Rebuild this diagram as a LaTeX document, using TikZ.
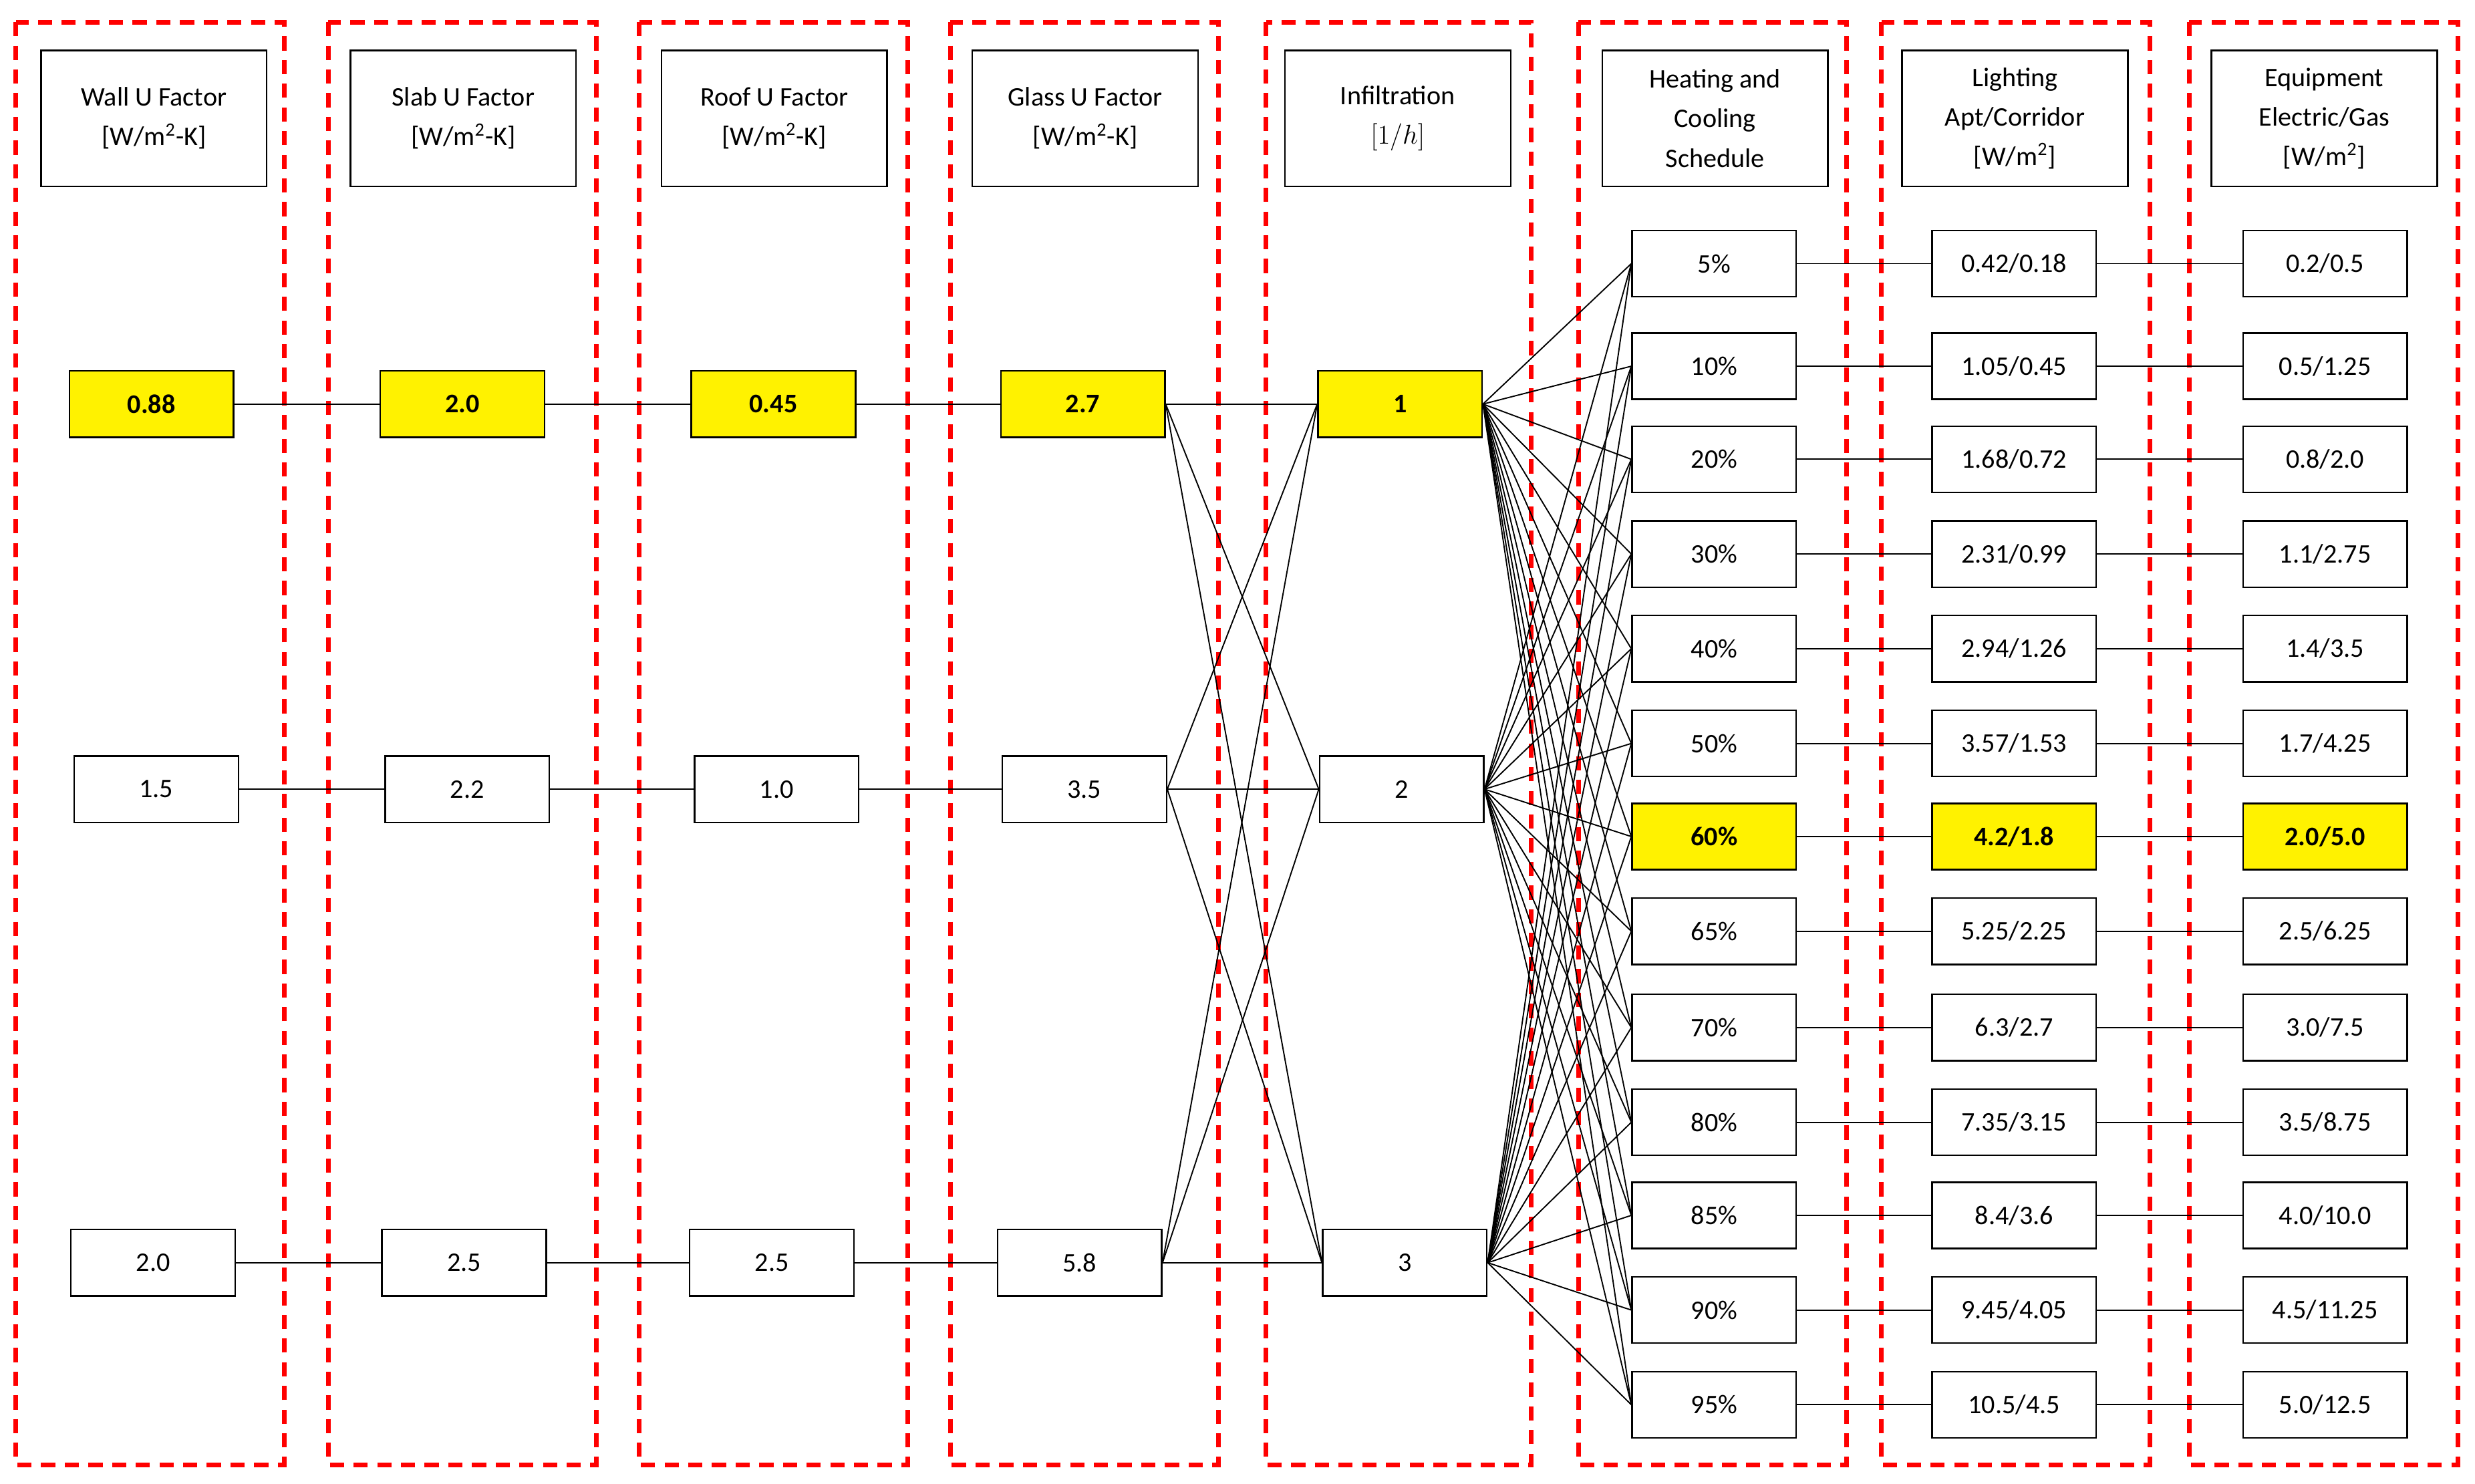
\documentclass[tikz,border=0pt]{standalone}
\usepackage{fontspec}
\setmainfont{Carlito}
\begin{document}
\begin{tikzpicture}[x=1pt,y=-1pt,
  col/.style={draw=red,line width=3pt,dash pattern=on 9pt off 6pt},
  hdr/.style={draw,line width=1pt,minimum width=143pt,minimum height=86pt,align=center,font=\fontsize{17}{25}\selectfont,inner sep=2pt},
  val/.style={draw,line width=1pt,minimum width=104pt,minimum height=42pt,font=\fontsize{17}{20}\selectfont,fill=white},
  hl/.style={val,fill=yellow,font=\fontsize{17}{20}\selectfont\bfseries},
  ln/.style={line width=0.8pt}]
\useasboundingbox (0,0) rectangle (1568,940);
% dashed columns
\foreach \a/\b in {10/180,208/378,405/575,602/772,802/970,1000/1170,1192/1362,1387/1557}
  \draw[col] (\a,14) rectangle (\b,928);
% headers
\node[hdr] (h1) at (97.5,75) {Wall U Factor\\{[W/m\textsuperscript{2}-K]}};
\node[hdr] (h2) at (293.5,75) {Slab U Factor\\{[W/m\textsuperscript{2}-K]}};
\node[hdr] (h3) at (490.5,75) {Roof U Factor\\{[W/m\textsuperscript{2}-K]}};
\node[hdr] (h4) at (687.5,75) {Glass U Factor\\{[W/m\textsuperscript{2}-K]}};
\node[hdr] (h5) at (885.5,75) {Infiltration\\$[1/h]$};
\node[hdr] (h6) at (1086.5,75) {Heating and\\Cooling\\Schedule};
\node[hdr] (h7) at (1276.5,75) {Lighting\\Apt/Corridor\\{[W/m\textsuperscript{2}]}};
\node[hdr] (h8) at (1472.5,75) {Equipment\\Electric/Gas\\{[W/m\textsuperscript{2}]}};
% left columns
\node[hl] (a1) at (96,256) {0.88};
\node[val] (a2) at (99,500) {1.5};
\node[val] (a3) at (97,800) {2.0};
\node[hl] (b1) at (293,256) {2.0};
\node[val] (b2) at (296,500) {2.2};
\node[val] (b3) at (294,800) {2.5};
\node[hl] (c1) at (490,256) {0.45};
\node[val] (c2) at (492,500) {1.0};
\node[val] (c3) at (489,800) {2.5};
\node[hl] (d1) at (686,256) {2.7};
\node[val] (d2) at (687,500) {3.5};
\node[val] (d3) at (684,800) {5.8};
\node[hl] (e1) at (887,256) {1};
\node[val] (e2) at (888,500) {2};
\node[val] (e3) at (890,800) {3};
\foreach \r in {1,2,3}{
  \draw[ln] (a\r) -- (b\r); \draw[ln] (b\r) -- (c\r); \draw[ln] (c\r) -- (d\r);
}
\foreach \i in {1,2,3}\foreach \j in {1,2,3}
  \draw[ln] (d\i.east) -- (e\j.west);
% right columns
\foreach \k/\y/\p/\q/\r in {1/167/5\%/0.42\slash 0.18/0.2\slash 0.5,
  2/232/10\%/1.05\slash 0.45/0.5\slash 1.25,
  3/291/20\%/1.68\slash 0.72/0.8\slash 2.0,
  4/351/30\%/2.31\slash 0.99/1.1\slash 2.75,
  5/411/40\%/2.94\slash 1.26/1.4\slash 3.5,
  6/471/50\%/3.57\slash 1.53/1.7\slash 4.25,
  8/590/65\%/5.25\slash 2.25/2.5\slash 6.25,
  9/651/70\%/6.3\slash 2.7/3.0\slash 7.5,
  10/711/80\%/7.35\slash 3.15/3.5\slash 8.75,
  11/770/85\%/8.4\slash 3.6/4.0\slash 10.0,
  12/830/90\%/9.45\slash 4.05/4.5\slash 11.25,
  13/890/95\%/10.5\slash 4.5/5.0\slash 12.5}{
  \node[val] (f\k) at (1086,\y) {\p};
  \node[val] (g\k) at (1276,\y) {\q};
  \node[val] (k\k) at (1473,\y) {\r};
}
\node[hl] (f7) at (1086,530) {60\%};
\node[hl] (g7) at (1276,530) {4.2/1.8};
\node[hl] (k7) at (1473,530) {2.0/5.0};
\foreach \k in {1,...,13}{
  \draw[ln] (f\k) -- (g\k); \draw[ln] (g\k) -- (k\k);
  \foreach \i in {1,2,3} \draw[ln] (e\i.east) -- (f\k.west);
}
\end{tikzpicture}
\end{document}
